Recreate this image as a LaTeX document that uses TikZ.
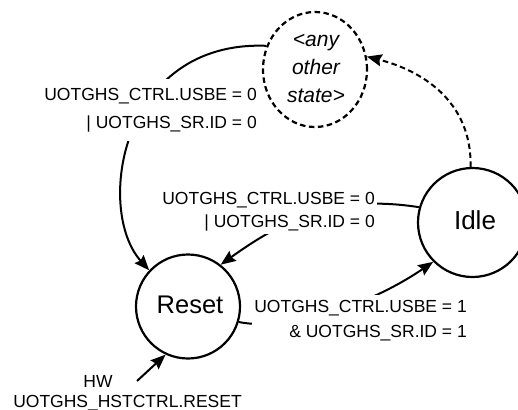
\documentclass[tikz,border=0pt]{standalone}
\usepackage{fontspec}
\setmainfont{Liberation Sans}
\usetikzlibrary{arrows.meta,shapes.geometric}
\tikzset{
  state/.style={draw, circle, line width=2.2pt, inner sep=0pt},
  otherstate/.style={draw, ellipse, line width=2.2pt, dash pattern=on 5.5pt off 3.5pt, inner sep=0pt, align=center},
  conn/.style={line width=2pt, -{Stealth[length=15pt,width=12pt,inset=2pt]}},
  dconn/.style={conn, dash pattern=on 5.5pt off 3.5pt},
  lbl/.style={fill=white, inner xsep=2pt, inner ysep=3pt, align=right, font=\fontsize{17.5}{23}\selectfont},
}
\begin{document}
\begin{tikzpicture}[x=1pt,y=-1pt]
\clip (0,0) rectangle (518,409);
\node[state, minimum size=104pt] (reset) at (188,306.5) {};
\node[font=\fontsize{25.5}{30}\selectfont] (resettext) at (190,305) {Reset};
\node[state, minimum size=109pt] (idle) at (472.5,222.5) {};
\node[font=\fontsize{26}{30}\selectfont] (idletext) at (475,220) {Idle};
\node[otherstate, minimum width=104pt, minimum height=115pt] (any) at (315,69.5) {};
\node[align=center, font=\fontsize{21}{28}\selectfont\itshape] (anytext) at (316,68.5) {<any\\other\\state>};

% connectors
\draw[conn] (any.154) .. controls (120,40) and (95,210) .. (reset.137);
\draw[conn] (idle.164) .. controls (340,195) and (290,215) .. (reset.52);
\draw[conn] (reset.-17) .. controls (290,332) and (370,305) .. (idle.225);
\draw[dconn] (idle.92) .. controls (472,100) and (420,70) .. (any.14);

% labels
\node[lbl, inner ysep=9pt, font=\fontsize{17.5}{28}\selectfont, anchor=east] (l1) at (259,110) {UOTGHS\_CTRL.USBE = 0\\| UOTGHS\_SR.ID = 0};
\node[lbl, anchor=east] (l2) at (377,211.5) {UOTGHS\_CTRL.USBE = 0\\| UOTGHS\_SR.ID = 0};
\node[lbl, inner ysep=5pt, font=\fontsize{17.5}{25}\selectfont, anchor=east] (l3) at (469,320.5) {UOTGHS\_CTRL.USBE = 1\\\& UOTGHS\_SR.ID = 1};

\node[font=\fontsize{17.5}{21}\selectfont] (hw) at (98,381) {HW};
\node[font=\fontsize{17.5}{21}\selectfont] (hwsig) at (127.5,403) {UOTGHS\_HSTCTRL.RESET};
\coordinate (hwtail) at (137,381);
\draw[conn] (hwtail) -- (reset.-115);
\end{tikzpicture}
\end{document}
